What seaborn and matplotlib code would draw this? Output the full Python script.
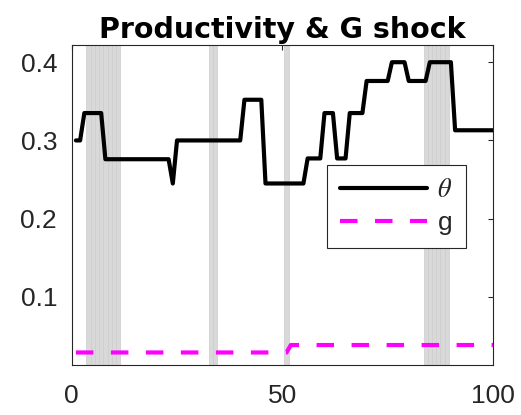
import numpy as np
import pandas as pd
import seaborn as sns
import matplotlib.pyplot as plt

# periods 1..100
periods = np.arange(1, 101)

# productivity theta as step levels and how many periods each lasts
theta_levels = [0.300, 0.335, 0.276, 0.245, 0.300, 0.352, 0.245, 0.277,
                0.335, 0.277, 0.335, 0.376, 0.400, 0.376, 0.400, 0.313]
theta_runs = [2, 5, 16, 1, 16, 5, 10, 4, 3, 3, 4, 6, 4, 5, 6, 10]

# government shock g
g_levels = [0.029, 0.0385]
g_runs = [51, 49]

# recession periods (shaded)
recessions = [4, 5, 6, 7, 8, 9, 10, 11, 33, 34, 51, 84, 85, 86, 87, 88, 89]

df = pd.DataFrame({
    't': periods,
    'theta': np.repeat(theta_levels, theta_runs),
    'g': np.repeat(g_levels, g_runs),
})

sns.set_style("white")
plt.rcParams['font.family'] = ['Liberation Sans', 'DejaVu Sans']
plt.rcParams['mathtext.fontset'] = 'stix'

fig = plt.figure(figsize=(5.21, 4.15), dpi=100)
ax = fig.add_axes([0.1376, 0.1205, 0.8087, 0.7711])

for r in recessions:
    ax.axvspan(r - 0.5, r + 0.5, facecolor='#d9d9d9', edgecolor='#cccccc',
               linewidth=0.5, zorder=0)

sns.lineplot(data=df, x='t', y='theta', ax=ax, color='black', linewidth=3,
             label=r'$\theta$')
sns.lineplot(data=df, x='t', y='g', ax=ax, color='magenta', linewidth=3,
             linestyle=(0, (4.2, 4.2)), label='g')

ax.set_xlim(0, 100)
ax.set_ylim(0.013, 0.422)
ax.set_xticks([0, 50, 100])
ax.set_yticks([0.1, 0.2, 0.3, 0.4])
ax.set_xlabel('')
ax.set_ylabel('')
ax.tick_params(direction='in', length=3.6, width=0.8, labelsize=19,
               top=True, right=True, colors='#262626', pad=10.5)
ax.tick_params(axis='x', pad=14)
for s in ax.spines.values():
    s.set_color('#262626')
    s.set_linewidth(0.8)

ax.set_title('Productivity & G shock', fontsize=20.5, fontweight='bold', pad=5,
             family='DejaVu Sans', color='black')

leg = ax.legend(loc='upper left', bbox_to_anchor=(0.605, 0.625), fontsize=19,
                handlelength=3.3, frameon=True, fancybox=False, framealpha=1,
                borderpad=0.5, labelspacing=0.33, handletextpad=0.4,
                borderaxespad=0)
leg.get_frame().set_edgecolor('#262626')
leg.get_frame().set_linewidth(0.8)

fig.savefig('out.png', dpi=100)
